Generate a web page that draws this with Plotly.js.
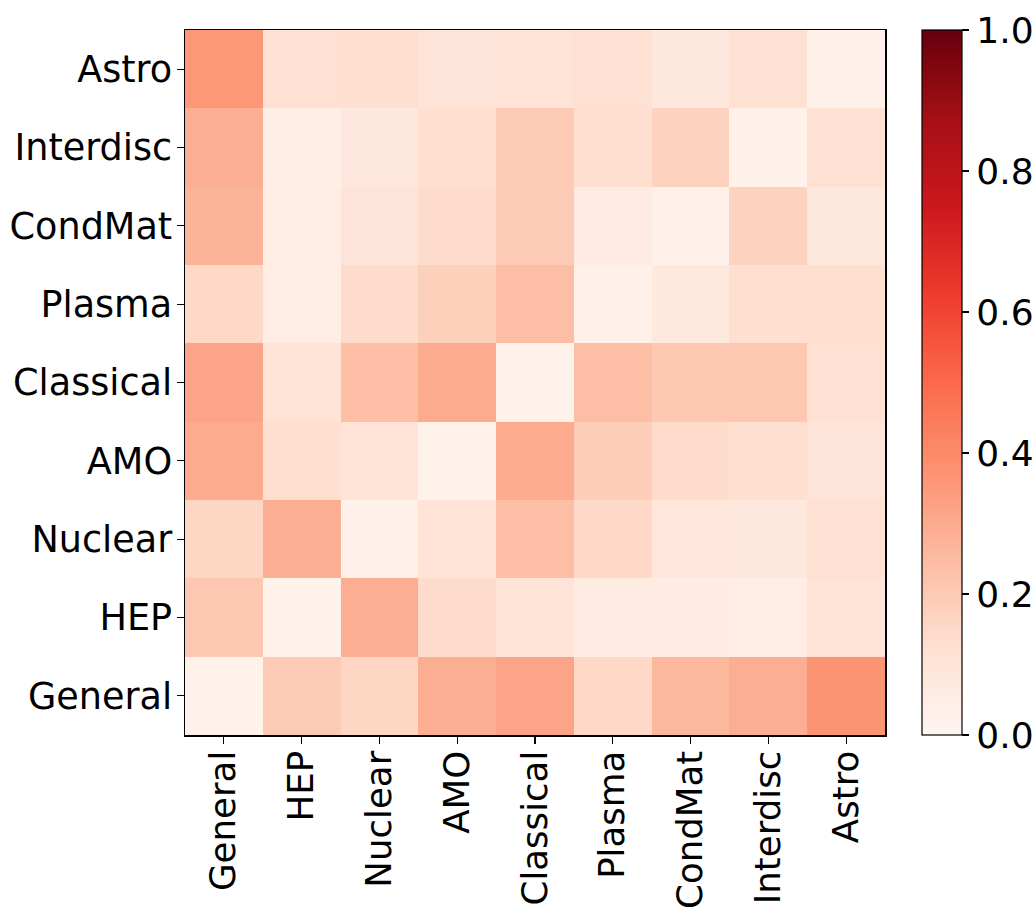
<!DOCTYPE html>
<html><head><meta charset="utf-8">
<script src="https://cdn.plot.ly/plotly-3.0.1.min.js"></script>
<style>body{margin:0;background:#fff}#chart{width:1036px;height:909px}</style>
</head><body><div id="chart"></div>
<script>
const categories = ["General","HEP","Nuclear","AMO","Classical","Plasma","CondMat","Interdisc","Astro"];
// rows listed bottom (General) to top (Astro); columns General..Astro
const rowGeneral   = [0.02,0.20,0.16,0.29,0.32,0.15,0.26,0.29,0.37];
const rowHEP       = [0.21,0.02,0.29,0.14,0.11,0.06,0.06,0.05,0.11];
const rowNuclear   = [0.16,0.29,0.03,0.11,0.24,0.15,0.09,0.08,0.12];
const rowAMO       = [0.30,0.13,0.11,0.02,0.30,0.19,0.14,0.13,0.10];
const rowClassical = [0.32,0.11,0.24,0.30,0.02,0.24,0.21,0.21,0.12];
const rowPlasma    = [0.15,0.05,0.14,0.18,0.24,0.03,0.07,0.13,0.13];
const rowCondMat   = [0.27,0.05,0.10,0.14,0.20,0.06,0.03,0.17,0.08];
const rowInterdisc = [0.29,0.04,0.08,0.13,0.20,0.13,0.17,0.03,0.12];
const rowAstro     = [0.36,0.12,0.13,0.10,0.11,0.12,0.08,0.12,0.03];
const colorbarTicks = [0,0.2,0.4,0.6,0.8,1.0];
const colorbarTickText = ["0.0","0.2","0.4","0.6","0.8","1.0"];

const z = [rowGeneral,rowHEP,rowNuclear,rowAMO,rowClassical,rowPlasma,rowCondMat,rowInterdisc,rowAstro];
const redsScale = [
  [0,'#fff5f0'],[0.125,'#fee0d2'],[0.25,'#fcbba1'],[0.375,'#fc9272'],
  [0.5,'#fb6a4a'],[0.625,'#ef3b2c'],[0.75,'#cb181d'],[0.875,'#a50f15'],[1,'#67000d']
];
const font = {family:'DejaVu Sans, sans-serif', size:36.6, color:'#000'};
const xfont = {family:'DejaVu Sans, sans-serif', size:35.6, color:'#000'};
const trace = {
  type:'heatmap', x:categories, y:categories, z:z,
  zmin:0, zmax:1, colorscale:redsScale, showscale:true,
  colorbar:{
    x:1.0529, xanchor:'left', y:0.5, yanchor:'middle', len:1, lenmode:'fraction',
    thickness:40, thicknessmode:'pixels', outlinewidth:1.2, outlinecolor:'#000',
    tickvals:colorbarTicks, ticktext:colorbarTickText, ticks:'outside', ticklen:7, tickwidth:1.2,
    tickcolor:'#000', tickfont:{family:'DejaVu Sans, sans-serif', size:36, color:'#000'}, xpad:0, ypad:0
  }
};
const layout = {
  width:1036, height:909, paper_bgcolor:'#fff', plot_bgcolor:'#fff',
  margin:{l:185, r:151, t:30, b:174, autoexpand:false},
  font:font,
  xaxis:{type:'category', tickangle:-90, ticks:'outside', ticklen:7, tickwidth:1.2, tickcolor:'#000',
    showline:true, linecolor:'#000', linewidth:1.5, mirror:true, showgrid:false, zeroline:false,
    tickfont:xfont, automargin:false, ticklabelstandoff:-7},
  yaxis:{type:'category', ticks:'outside', ticklen:7, tickwidth:1.2, tickcolor:'#000',
    showline:true, linecolor:'#000', linewidth:1.5, mirror:true, showgrid:false, zeroline:false,
    tickfont:font, automargin:false, ticklabelstandoff:-3}
};
Plotly.newPlot('chart',[trace],layout,{displayModeBar:false,staticPlot:true});
</script></body></html>
